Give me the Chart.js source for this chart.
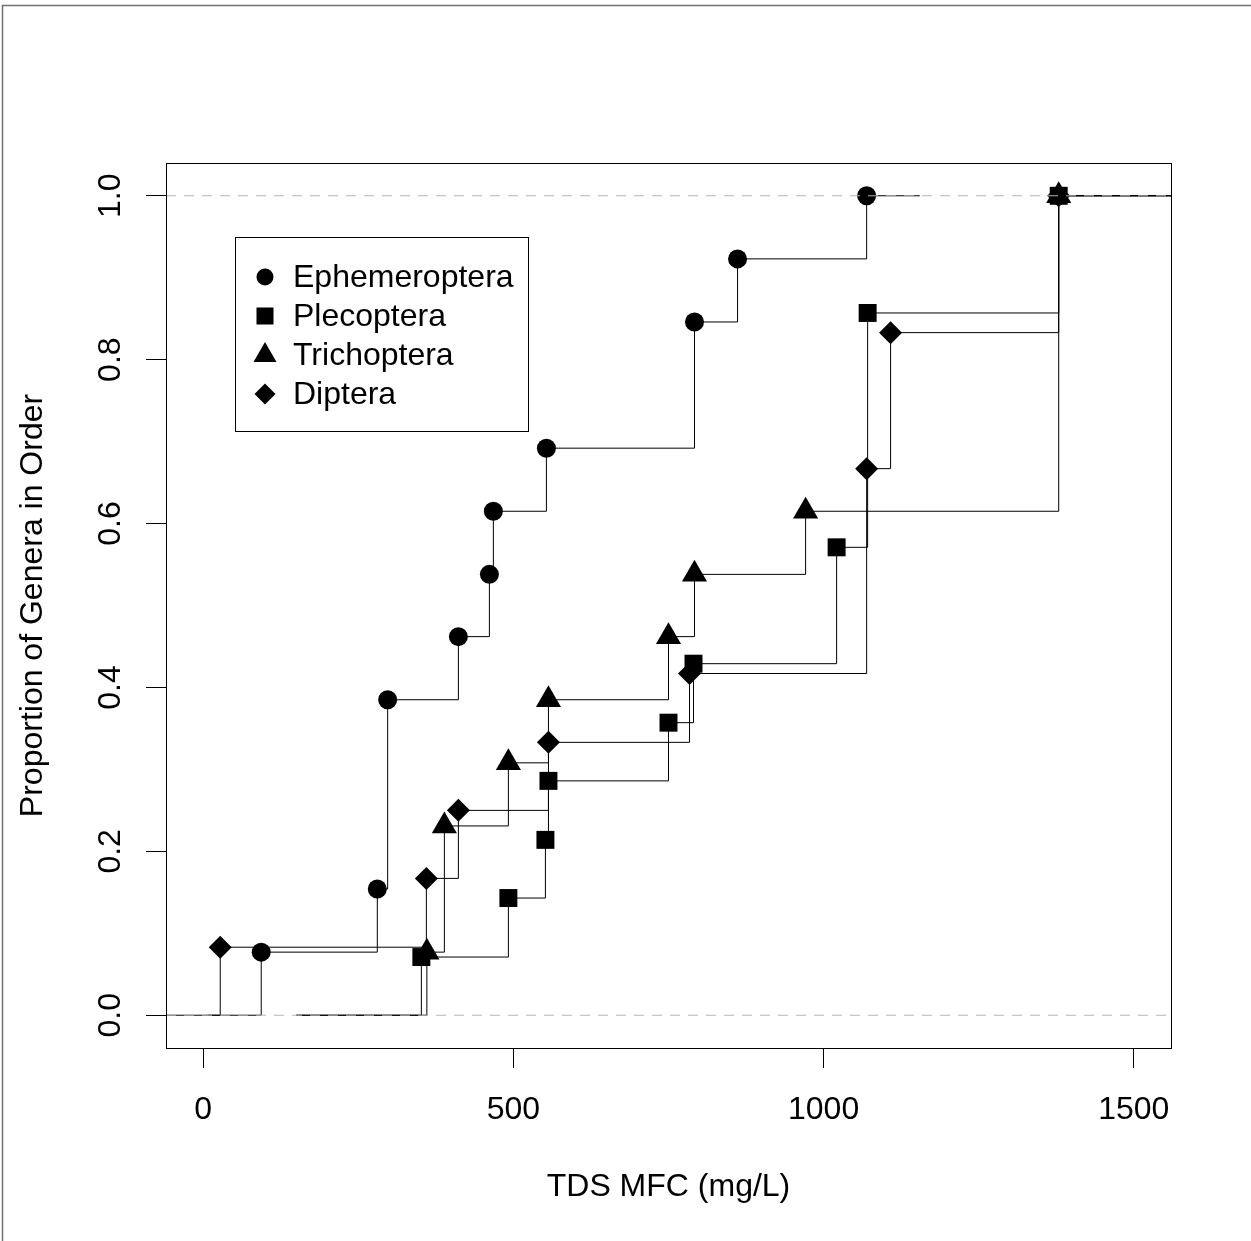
<!DOCTYPE html>
<html>
<head>
<meta charset="utf-8">
<script src="https://cdn.jsdelivr.net/npm/chart.js@4/dist/chart.umd.min.js"></script>
<style>
  html, body { margin: 0; padding: 0; background: #ffffff; }
  #wrap { width: 1251px; height: 1241px; }
</style>
</head>
<body>
<div id="wrap"><canvas id="c" width="1251" height="1241"></canvas></div>
<script>
// ---------- data ----------
const seriesNames = ["Ephemeroptera", "Plecoptera", "Trichoptera", "Diptera"];

const ephemX = [93.5, 280.6, 297.3, 411.3, 461.3, 467.7, 553.2, 791.9, 861.3, 1069.4];
const ephemY = [0.077, 0.154, 0.385, 0.462, 0.538, 0.615, 0.692, 0.846, 0.923, 1.0];

const plecoX = [351.6, 491.9, 551.6, 556.5, 750.0, 790.3, 1021.0, 1071.0, 1379.0];
const plecoY = [0.071, 0.143, 0.214, 0.286, 0.357, 0.429, 0.571, 0.857, 1.0];

const trichX = [360.5, 388.7, 491.9, 556.5, 750.0, 791.9, 971.0, 1379.0];
const trichY = [0.077, 0.231, 0.308, 0.385, 0.462, 0.538, 0.615, 1.0];

const dipX = [27.4, 359.7, 411.3, 556.5, 783.9, 1069.4, 1108.0, 1379.0];
const dipY = [0.083, 0.167, 0.25, 0.333, 0.417, 0.667, 0.833, 1.0];

// where each step function's flat tails start (y = 0) and end (y = 1)
const tailStart = [7, 150, 150, -300];
const tailEnd = [1155, 1700, 1700, 1700];

const xTicks = [0, 500, 1000, 1500];
const xTickLabels = ["0", "500", "1000", "1500"];
const yTicks = [0.0, 0.2, 0.4, 0.6, 0.8, 1.0];
const yTickLabels = ["0.0", "0.2", "0.4", "0.6", "0.8", "1.0"];
const refLevels = [0, 1];

const xTitle = "TDS MFC (mg/L)";
const yTitle = "Proportion of Genera in Order";

// ---------- build datasets ----------
const FONT = "'Liberation Sans', Arial, Helvetica, sans-serif";
Chart.defaults.font.family = FONT;
Chart.defaults.color = "#000";

const xs = [ephemX, plecoX, trichX, dipX];
const ys = [ephemY, plecoY, trichY, dipY];
const styles = [
  { pointStyle: "circle", radius: 9.5 },
  { pointStyle: "rect", radius: 12.7 },
  { pointStyle: "triangle", radius: 14.5 },
  { pointStyle: "rectRot", radius: 11.5 }
];

const X_MIN = -60, X_MAX = 1560, Y_MIN = -0.04, Y_MAX = 1.04;

const datasets = [];
refLevels.forEach(function (lv) {
  datasets.push({
    label: "ref" + lv,
    data: [{ x: X_MIN, y: lv }, { x: X_MAX, y: lv }],
    borderColor: "#b3b3b3",
    borderWidth: 1,
    borderDash: [10, 8],
    pointRadius: 0,
    order: 0
  });
});

seriesNames.forEach(function (name, i) {
  const pts = [{ x: tailStart[i], y: 0 }];
  xs[i].forEach(function (xv, j) { pts.push({ x: xv, y: ys[i][j] }); });
  pts.push({ x: tailEnd[i], y: 1 });
  const n = pts.length;
  datasets.push({
    label: name,
    data: pts,
    stepped: "before",
    borderColor: "#000",
    borderWidth: 1,
    pointStyle: styles[i].pointStyle,
    pointRadius: function (ctx) {
      return (ctx.dataIndex === 0 || ctx.dataIndex === n - 1) ? 0 : styles[i].radius;
    },
    pointBackgroundColor: "#000",
    pointBorderColor: "#000",
    pointBorderWidth: 0,
    order: 4 - i
  });
});

// ---------- plugins ----------
const framePlugin = {
  id: "frame",
  beforeDraw: function (chart) {
    const ctx = chart.ctx;
    ctx.save();
    ctx.fillStyle = "#fff";
    ctx.fillRect(0, 0, chart.width, chart.height);
    ctx.strokeStyle = "#707070";
    ctx.lineWidth = 1.5;
    ctx.beginPath();
    ctx.moveTo(2, 5.5); ctx.lineTo(chart.width, 5.5);
    ctx.moveTo(2.5, 5); ctx.lineTo(2.5, chart.height);
    ctx.stroke();
    ctx.restore();
  },
  afterDraw: function (chart) {
    const ctx = chart.ctx;
    const a = chart.chartArea;
    const ys = chart.scales.y;
    ctx.save();
    // plot box
    ctx.strokeStyle = "#000";
    ctx.lineWidth = 1;
    ctx.strokeRect(Math.round(a.left) + 0.5, Math.round(a.top) + 0.5,
                   Math.round(a.right - a.left), Math.round(a.bottom - a.top));
    // rotated y tick labels
    ctx.fillStyle = "#000";
    ctx.font = "32px " + FONT;
    ctx.textAlign = "center";
    ctx.textBaseline = "middle";
    yTicks.forEach(function (v, k) {
      const py = ys.getPixelForValue(v);
      ctx.save();
      ctx.translate(111, py);
      ctx.rotate(-Math.PI / 2);
      ctx.fillText(yTickLabels[k], 0, 0);
      ctx.restore();
    });
    // legend
    const lx = 235.5, ly = 237.5, lw = 293, lh = 194;
    ctx.strokeStyle = "#000";
    ctx.strokeRect(lx, ly, lw, lh);
    const rows = [277, 316, 355, 394];
    const sx = 265;
    ctx.fillStyle = "#000";
    // circle
    ctx.beginPath(); ctx.arc(sx, rows[0], 8.5, 0, Math.PI * 2); ctx.fill();
    // square
    ctx.fillRect(sx - 8.5, rows[1] - 8.5, 17, 17);
    // triangle
    ctx.beginPath();
    ctx.moveTo(sx, rows[2] - 13); ctx.lineTo(sx + 11.5, rows[2] + 7); ctx.lineTo(sx - 11.5, rows[2] + 7);
    ctx.closePath(); ctx.fill();
    // diamond
    ctx.beginPath();
    ctx.moveTo(sx, rows[3] - 10.5); ctx.lineTo(sx + 10.5, rows[3]); ctx.lineTo(sx, rows[3] + 10.5); ctx.lineTo(sx - 10.5, rows[3]);
    ctx.closePath(); ctx.fill();
    ctx.textAlign = "left";
    ctx.textBaseline = "middle";
    seriesNames.forEach(function (nm, k) { ctx.fillText(nm, 293, rows[k] + 1); });
    ctx.restore();
  }
};

new Chart(document.getElementById("c"), {
  type: "line",
  data: { datasets: datasets },
  options: {
    responsive: false,
    animation: false,
    events: [],
    layout: { padding: { left: 0, right: 80, top: 163, bottom: 0 } },
    plugins: { legend: { display: false }, tooltip: { enabled: false } },
    scales: {
      x: {
        type: "linear",
        min: X_MIN, max: X_MAX,
        afterBuildTicks: function (s) { s.ticks = xTicks.map(function (v) { return { value: v }; }); },
        afterFit: function (s) { s.height = 193; },
        grid: { display: true, drawOnChartArea: false, drawTicks: true, tickLength: 20, color: "#000", lineWidth: 1 },
        border: { display: false },
        ticks: {
          font: { size: 32 }, color: "#000", padding: 23, maxRotation: 0, minRotation: 0,
          callback: function (v) { const k = xTicks.indexOf(v); return k >= 0 ? xTickLabels[k] : ""; }
        },
        title: { display: true, text: xTitle, font: { size: 32 }, color: "#000", padding: { top: 0, bottom: 35 } }
      },
      y: {
        type: "linear",
        min: Y_MIN, max: Y_MAX,
        afterBuildTicks: function (s) { s.ticks = yTicks.map(function (v) { return { value: v }; }); },
        afterFit: function (s) { s.width = 166; },
        grid: { display: true, drawOnChartArea: false, drawTicks: true, tickLength: 20, color: "#000", lineWidth: 1 },
        border: { display: false },
        ticks: { display: false },
        title: { display: true, text: yTitle, font: { size: 32 }, color: "#000", padding: { top: 14, bottom: 0 } }
      }
    }
  },
  plugins: [framePlugin]
});
</script>
</body>
</html>
